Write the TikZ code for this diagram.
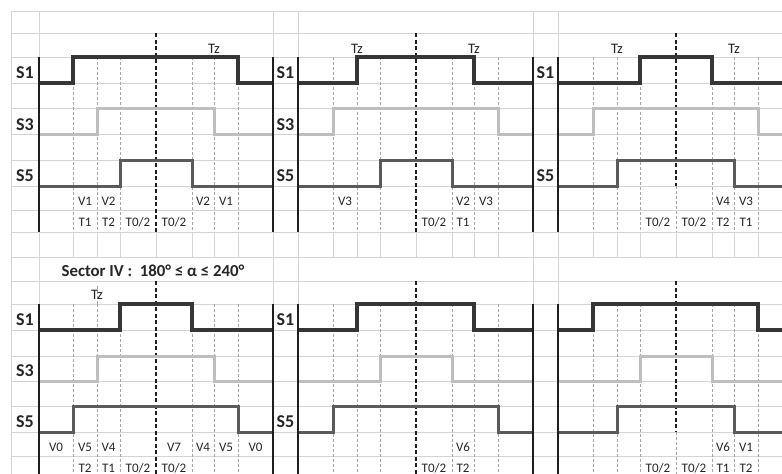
\documentclass[tikz,border=0pt]{standalone}
\usepackage{fontspec}
\setmainfont{Carlito}
\definecolor{gridc}{HTML}{D4D4D4}
\definecolor{dashc}{HTML}{A6A6A6}
\definecolor{sone}{HTML}{363636}
\definecolor{sthree}{HTML}{BEBEBE}
\definecolor{sfive}{HTML}{5A5A5A}
\definecolor{heavy}{HTML}{1E1E1E}
\tikzset{
  gridln/.style={draw=gridc, line width=0.8pt},
  thindash/.style={draw=dashc, line width=0.9pt, dash pattern=on 2.5pt off 2.5pt},
  ctrdash/.style={draw=heavy, line width=1.4pt, dash pattern=on 4pt off 2.5pt},
  heavyln/.style={draw=heavy, line width=2.4pt},
  wone/.style={draw=sone, line width=3.4pt, line join=miter},
  wthree/.style={draw=sthree, line width=3pt, line join=miter},
  wfive/.style={draw=sfive, line width=3pt, line join=miter},
  lab/.style={font=\fontsize{13}{15}\selectfont, anchor=base, inner sep=0pt, text=black!85},
  tzlab/.style={font=\fontsize{14.5}{16}\selectfont, anchor=base, inner sep=0pt, text=black!85},
  slab/.style={font=\fontsize{18}{20}\selectfont\bfseries, anchor=base, inner sep=0pt, text=black!85},
  ttl/.style={font=\fontsize{16.8}{19}\selectfont\bfseries, anchor=base, inner sep=0pt, text=black!85}
}
% \wv{style}{yhi}{ylo}{xstart}{xrise}{xfall}{xend}
\newcommand{\wv}[7]{\draw[#1] (#4,#3) -- (#5,#3) -- (#5,#2) -- (#6,#2) -- (#6,#3) -- (#7,#3);}
\begin{document}
\begin{tikzpicture}[x=1pt,y=-1pt]
\useasboundingbox (0,0) rectangle (782,474);
\clip (0,0) rectangle (782,474);
\fill[white] (0,0) rectangle (782,474);
% ---------- grid ----------
\foreach \y in {11,33,57,83,108,134,160,186,210,232,257,281,304,330,356,381,406,432,456}
  \draw[gridln] (11,\y) -- (782,\y);
\foreach \x in {11,39,273,298,533,558}
  \draw[gridln] (\x,11) -- (\x,474);
\foreach \x in {73,97,120,156,192,214,238,333,357,380,416,452,474,498,593,617,640,676,712,734,758}
  \draw[gridln] (\x,232) -- (\x,257);
% ---------- thin dashed verticals ----------
\foreach \x in {73,97,120,192,214,238,333,357,380,452,474,498,593,617,640,712,734,758}{
  \draw[thindash] (\x,57) -- (\x,232);
  \draw[thindash] (\x,304) -- (\x,474);
}
\draw[thindash] (97,286) -- (97,304);
% ---------- centre dashed ----------
\draw[ctrdash] (156,33) -- (156,232);
\draw[ctrdash] (416,33) -- (416,232);
\draw[ctrdash] (676,33) -- (676,186);
\draw[thindash] (676,186) -- (676,232);
\draw[ctrdash] (156,281) -- (156,474);
\draw[ctrdash] (416,281) -- (416,474);
\draw[ctrdash] (676,281) -- (676,432);
\draw[thindash] (676,432) -- (676,474);
% ---------- waveforms, top ----------
\wv{wthree}{108}{134}{39}{97}{214}{273}
\wv{wfive}{160}{186}{39}{120}{192}{273}
\wv{wone}{57}{83}{39}{73}{238}{273}
\wv{wthree}{108}{134}{298}{333}{498}{533}
\wv{wfive}{160}{186}{298}{380}{452}{533}
\wv{wone}{57}{83}{298}{357}{474}{533}
\wv{wthree}{108}{134}{558}{593}{758}{790}
\wv{wfive}{160}{186}{558}{617}{734}{790}
\wv{wone}{57}{83}{558}{640}{712}{790}
% ---------- waveforms, bottom ----------
\wv{wthree}{356}{381}{39}{97}{214}{273}
\wv{wfive}{406}{432}{39}{73}{238}{273}
\wv{wone}{304}{330}{39}{120}{192}{273}
\wv{wthree}{356}{381}{298}{380}{452}{533}
\wv{wfive}{406}{432}{298}{333}{498}{533}
\wv{wone}{304}{330}{298}{357}{474}{533}
\wv{wthree}{356}{381}{558}{640}{712}{790}
\wv{wfive}{406}{432}{558}{617}{734}{790}
\wv{wone}{304}{330}{558}{593}{758}{790}
% ---------- heavy verticals ----------
\foreach \x in {39,273,298,533,558}{
  \draw[heavyln] (\x,57) -- (\x,232);
  \draw[heavyln] (\x,304) -- (\x,474);
}
% ---------- signal labels ----------
\node[slab] (a1) at (25,78.5) {S1};
\node[slab] (a3) at (25,130) {S3};
\node[slab] (a5) at (25,181.5) {S5};
\node[slab] (b1) at (285.5,78.5) {S1};
\node[slab] (b3) at (285.5,130) {S3};
\node[slab] (b5) at (285.5,181.5) {S5};
\node[slab] (c1) at (545.5,78.5) {S1};
\node[slab] (c5) at (545.5,181.5) {S5};
\node[slab] (d1) at (25,325.5) {S1};
\node[slab] (d3) at (25,376.5) {S3};
\node[slab] (d5) at (25,427.5) {S5};
\node[slab] (e1) at (285.5,325.5) {S1};
\node[slab] (e5) at (285.5,427.5) {S5};
% ---------- Tz ----------
\node[tzlab] (tz1) at (214,53) {Tz};
\node[tzlab] (tz2) at (357,53) {Tz};
\node[tzlab] (tz3) at (474,53) {Tz};
\node[tzlab] (tz4) at (617,53) {Tz};
\node[tzlab] (tz5) at (734,53) {Tz};
\node[tzlab] (tz6) at (97,299) {Tz};
% ---------- title ----------
\node[ttl] (title) at (153,276.5) {Sector IV :\ \ 180° ≤ α ≤ 240°};
% ---------- V / T labels, top ----------
\node[lab] (v11) at (85,205) {V1};
\node[lab] (v12) at (108.5,205) {V2};
\node[lab] (v13) at (203,205) {V2};
\node[lab] (v14) at (226,205) {V1};
\node[lab] (t11) at (85,226.5) {T1};
\node[lab] (t12) at (108.5,226.5) {T2};
\node[lab] (t13) at (138,226.5) {T0/2};
\node[lab] (t14) at (174,226.5) {T0/2};
\node[lab] (v21) at (345,205) {V3};
\node[lab] (v22) at (463,205) {V2};
\node[lab] (v23) at (486,205) {V3};
\node[lab] (t21) at (434,226.5) {T0/2};
\node[lab] (t22) at (463,226.5) {T1};
\node[lab] (v31) at (723,205) {V4};
\node[lab] (v32) at (746,205) {V3};
\node[lab] (t31) at (658,226.5) {T0/2};
\node[lab] (t32) at (694,226.5) {T0/2};
\node[lab] (t33) at (723,226.5) {T2};
\node[lab] (t34) at (746,226.5) {T1};
% ---------- V / T labels, bottom ----------
\node[lab] (v41) at (56,451) {V0};
\node[lab] (v42) at (85,451) {V5};
\node[lab] (v43) at (108.5,451) {V4};
\node[lab] (v44) at (174,451) {V7};
\node[lab] (v45) at (203,451) {V4};
\node[lab] (v46) at (226,451) {V5};
\node[lab] (v47) at (255.5,451) {V0};
\node[lab] (t41) at (85,472) {T2};
\node[lab] (t42) at (108.5,472) {T1};
\node[lab] (t43) at (138,472) {T0/2};
\node[lab] (t44) at (174,472) {T0/2};
\node[lab] (v51) at (463,451) {V6};
\node[lab] (t51) at (434,472) {T0/2};
\node[lab] (t52) at (463,472) {T2};
\node[lab] (v61) at (723,451) {V6};
\node[lab] (v62) at (746,451) {V1};
\node[lab] (t61) at (658,472) {T0/2};
\node[lab] (t62) at (694,472) {T0/2};
\node[lab] (t63) at (723,472) {T1};
\node[lab] (t64) at (746,472) {T2};
\end{tikzpicture}
\end{document}
